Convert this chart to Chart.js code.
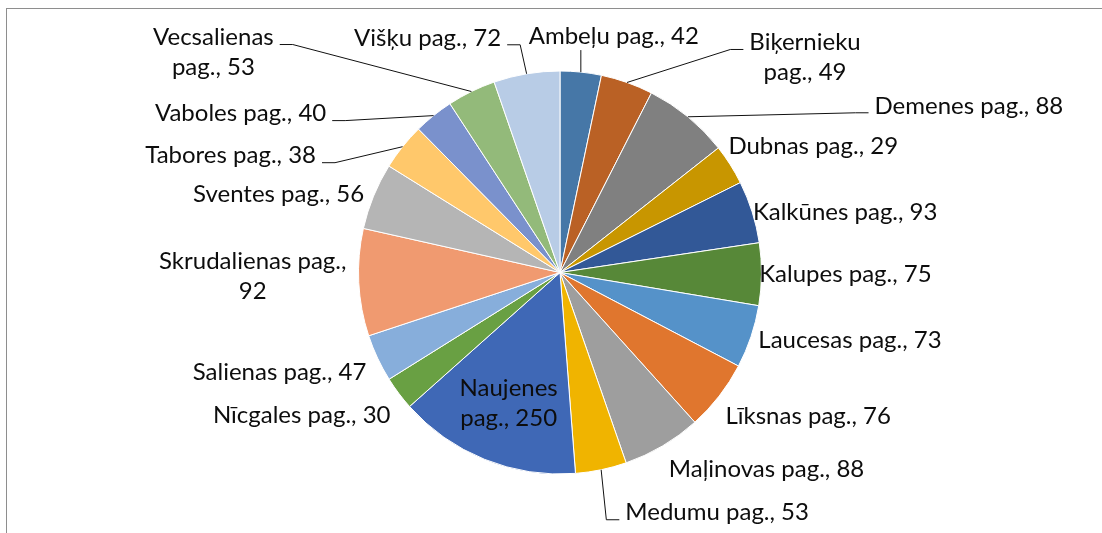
<!DOCTYPE html>
<html>
<head>
<meta charset="utf-8">
<script src="https://cdn.jsdelivr.net/npm/chart.js@4/dist/chart.umd.min.js"></script>
<style>
  html, body { margin: 0; padding: 0; background: #fff; }
  #wrap { position: relative; width: 1102px; height: 533px; overflow: hidden; }
  #frame { position: absolute; left: 6px; top: 8px; width: 1200px; height: 600px;
           border-top: 1px solid #8e8e8e; border-left: 1px solid #8e8e8e; }
  canvas { position: absolute; left: 0; top: 0; }
</style>
</head>
<body>
<div id="wrap">
  <div id="frame"></div>
  <canvas id="pie" width="1102" height="533"></canvas>
</div>
<script>
// parishes, clockwise from 12 o'clock
var parishes = ['Ambeļu', 'Biķernieku', 'Demenes', 'Dubnas', 'Kalkūnes', 'Kalupes',
  'Laucesas', 'Līksnas', 'Maļinovas', 'Medumu', 'Naujenes', 'Nīcgales', 'Salienas',
  'Skrudalienas', 'Sventes', 'Tabores', 'Vaboles', 'Vecsalienas', 'Višķu'];
// numbers printed in the labels
var counts = [42, 49, 88, 29, 93, 75, 73, 76, 88, 53, 250, 30, 47, 92, 56, 38, 40, 53, 72];
// slice sizes as drawn (share of the pie, %)
var shares = [3.3, 4.2, 6.9, 3.25, 5.0, 5.0, 5.05, 5.65, 6.35, 4.1, 14.65, 2.7, 3.8, 8.6,
  5.35, 3.75, 3.2, 3.9, 5.3];

var colors = ['#4677a7', '#ba6125', '#808080', '#c89600', '#325897', '#578838',
  '#5592c9', '#e0762e', '#9e9e9e', '#f0b400', '#3f68b6', '#69a043', '#87aedb',
  '#f09a70', '#b5b5b5', '#ffc86b', '#7a91cc', '#93ba7a', '#b8cce6'];

// label placement: offset of text centre from the slice's outer midpoint,
// br: 1 = break after name, 2 = break before number; lead: leader line side
var labelLayout = [
  {dx: 33, dy: -36, lead: 'v'},
  {dx: 178, dy: -25, br: 1, lead: 'l'},
  {dx: 281, dy: -11, lead: 'l'},
  {dx: 83, dy: -18},
  {dx: 93, dy: 0},
  {dx: 84, dy: 0},
  {dx: 99, dy: 4},
  {dx: 89, dy: 20},
  {dx: 104, dy: 23},
  {dx: 116, dy: 43, lead: 'l'},
  {dx: 24, dy: -56, br: 1},
  {dx: -97, dy: 22},
  {dx: -98, dy: 14},
  {dx: -106, dy: -6, br: 2},
  {dx: -95, dy: -2},
  {dx: -172, dy: 9, lead: 'r'},
  {dx: -193, dy: -2, lead: 'r'},
  {dx: -258, dy: -39, br: 1, lead: 'r'},
  {dx: -99, dy: -36, lead: 'r'}
];

var FONT = '24px Lato';
var LINE_H = 30;
var GAP = 6;

var pieLabels = {
  id: 'pieLabels',
  afterDatasetsDraw: function(chart) {
    var ctx = chart.ctx;
    var meta = chart.getDatasetMeta(0);
    ctx.save();
    ctx.font = FONT;
    ctx.fillStyle = '#0d0d0d';
    ctx.strokeStyle = '#111';
    ctx.lineWidth = 1;
    ctx.textAlign = 'center';
    ctx.textBaseline = 'middle';
    meta.data.forEach(function(arc, i) {
      var p = arc.getProps(['x', 'y', 'startAngle', 'endAngle', 'outerRadius'], true);
      var mid = (p.startAngle + p.endAngle) / 2;
      var ax = p.x + Math.cos(mid) * p.outerRadius;
      var ay = p.y + Math.sin(mid) * p.outerRadius;
      var lay = labelLayout[i];
      var cx = ax + lay.dx, cy = ay + lay.dy;
      var name = parishes[i], num = counts[i];
      var lines;
      if (lay.br === 1) lines = [name, 'pag., ' + num];
      else if (lay.br === 2) lines = [name + ' pag.,', String(num)];
      else lines = [name + ' pag., ' + num];
      var y0 = cy - (lines.length - 1) * LINE_H / 2;
      lines.forEach(function(t, k) { ctx.fillText(t, cx, y0 + k * LINE_H); });

      if (lay.lead) {
        var w = ctx.measureText(lines[0]).width;
        var ly = y0 + 7;
        ctx.beginPath();
        ctx.moveTo(ax, ay);
        if (lay.lead === 'v') {
          ctx.lineTo(ax, cy + 14);
        } else if (lay.lead === 'l') {
          var ex = cx - w / 2 - GAP;
          ctx.lineTo(ex - 13, ly);
          ctx.lineTo(ex, ly);
        } else {
          var ex2 = cx + w / 2 + GAP;
          ctx.lineTo(ex2 + 13, ly);
          ctx.lineTo(ex2, ly);
        }
        ctx.stroke();
      }
    });
    ctx.restore();
  }
};

new Chart(document.getElementById('pie'), {
  type: 'pie',
  data: {
    labels: parishes,
    datasets: [{
      data: shares,
      backgroundColor: colors,
      borderColor: '#ffffff',
      borderWidth: 1
    }]
  },
  options: {
    responsive: false,
    animation: false,
    layout: { padding: { left: 358, right: 340, top: 70, bottom: 58 } },
    plugins: {
      legend: { display: false },
      tooltip: { enabled: false }
    }
  },
  plugins: [pieLabels]
});
</script>
</body>
</html>
